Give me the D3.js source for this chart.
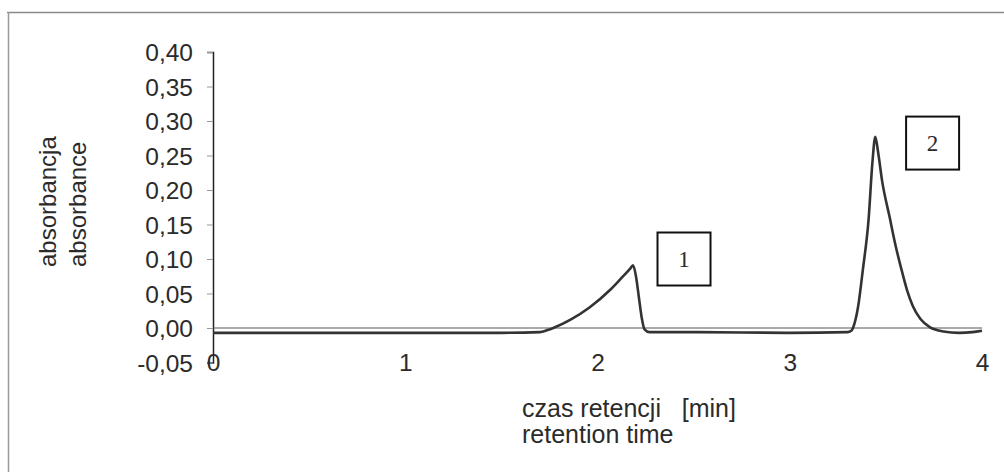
<!DOCTYPE html>
<html>
<head>
<meta charset="utf-8">
<script src="https://cdn.jsdelivr.net/npm/d3@7"></script>
<style>
  html, body { margin: 0; padding: 0; background: #fff; }
  svg { display: block; }
  text { font-family: "Liberation Sans", Arial, sans-serif; fill: #2b2b2b; }
</style>
</head>
<body>
<svg id="chart" width="1004" height="472"></svg>
<script>
// ---- data ----
const times = [0, 0.5, 1.0, 1.5, 1.7, 1.74, 1.77, 1.86, 1.96, 2.065, 2.13, 2.17, 2.185, 2.2, 2.215, 2.23, 2.245, 2.27, 2.5, 3.0, 3.3, 3.32, 3.335, 3.355, 3.38, 3.41, 3.43, 3.445, 3.46, 3.48, 3.52, 3.55, 3.58, 3.61, 3.64, 3.68, 3.73, 3.8, 3.88, 3.95, 4.0];
const absorbance = [-0.007, -0.007, -0.007, -0.007, -0.006, -0.003, 0.0, 0.012, 0.030, 0.055, 0.074, 0.086, 0.091, 0.075, 0.045, 0.015, -0.002, -0.006, -0.006, -0.007, -0.006, -0.004, 0.005, 0.030, 0.084, 0.157, 0.240, 0.277, 0.254, 0.214, 0.160, 0.120, 0.086, 0.055, 0.032, 0.013, 0.001, -0.005, -0.007, -0.006, -0.004];
const yTicks = [-0.05, 0, 0.05, 0.10, 0.15, 0.20, 0.25, 0.30, 0.35, 0.40];
const xTicks = [0, 1, 2, 3, 4];
const peakLabels = ["1", "2"];
const peakLabelTime = [2.45, 3.743];
const peakLabelValue = [0.100, 0.268];
const yTitle = ["absorbancja", "absorbance"];
const xTitle = ["czas retencji   [min]", "retention time"];

// ---- drawing ----
const svg = d3.select("#chart");
const x = d3.scaleLinear().domain([0, 4]).range([213, 982]);
const y = d3.scaleLinear().domain([-0.05, 0.40]).range([362.5, 52]);
const fmt = d => d3.format(".2f")(d).replace(".", ",").replace("−", "-");

// scan frame
svg.append("line").attr("x1", 7).attr("x2", 1004).attr("y1", 12.5).attr("y2", 12.5)
  .attr("stroke", "#8a8a8a").attr("stroke-width", 1.5);
svg.append("line").attr("x1", 8.5).attr("x2", 8.5).attr("y1", 12).attr("y2", 472)
  .attr("stroke", "#9a9a9a").attr("stroke-width", 1.5);

// y axis
const yAxis = d3.axisLeft(y).tickValues(yTicks).tickSize(6).tickPadding(14)
  .tickFormat(fmt);
const gy = svg.append("g").attr("transform", `translate(${x(0)},0)`).call(yAxis);
gy.select(".domain").attr("stroke", "#222").attr("stroke-width", 1.5);
gy.selectAll(".tick line").attr("stroke", "#999").attr("stroke-width", 1);
gy.selectAll(".tick text").style("font-size", "24.5px").attr("fill", "#2b2b2b")
  .attr("dy", "0.36em");

// x axis line at zero
svg.append("line").attr("x1", x(0)).attr("x2", x(4)).attr("y1", y(0)).attr("y2", y(0))
  .attr("stroke", "#555").attr("stroke-width", 1);

// x tick labels at the bottom level
const xAxis = d3.axisBottom(x).tickValues(xTicks).tickSize(0).tickPadding(0)
  .tickFormat(d3.format("d"));
const gx = svg.append("g").attr("transform", `translate(0,${y(-0.05)})`).call(xAxis);
gx.select(".domain").remove();
gx.selectAll(".tick text").style("font-size", "24.5px").attr("fill", "#2b2b2b")
  .attr("y", 0).attr("dy", "0.36em");

// data line
const line = d3.line().x((d, i) => x(times[i])).y((d, i) => y(absorbance[i]))
  .curve(d3.curveMonotoneX);
svg.append("path").datum(absorbance).attr("d", line)
  .attr("fill", "none").attr("stroke", "#333").attr("stroke-width", 2.6)
  .attr("stroke-linejoin", "round");

// peak label boxes
const boxSize = 53;
peakLabels.forEach((lab, i) => {
  const cx = x(peakLabelTime[i]), cy = y(peakLabelValue[i]);
  svg.append("rect").attr("x", cx - boxSize / 2).attr("y", cy - boxSize / 2)
    .attr("width", boxSize).attr("height", boxSize)
    .attr("fill", "none").attr("stroke", "#111").attr("stroke-width", 2);
  svg.append("text").attr("x", cx).attr("y", cy).attr("dy", "0.35em")
    .attr("text-anchor", "middle")
    .style("font-family", "'Liberation Serif', 'DejaVu Serif', serif")
    .style("font-size", "23px").text(lab);
});

// y title (rotated, start-aligned at bottom)
yTitle.forEach((t, i) => {
  svg.append("text")
    .attr("transform", `translate(${56 + i * 30},267) rotate(-90)`)
    .attr("text-anchor", "start").style("font-size", "24px").text(t);
});

// x title
xTitle.forEach((t, i) => {
  svg.append("text").attr("x", 522).attr("y", 417 + i * 26)
    .attr("text-anchor", "start").style("font-size", "25px")
    .style("white-space", "pre").attr("xml:space", "preserve").text(t);
});
</script>
</body>
</html>
